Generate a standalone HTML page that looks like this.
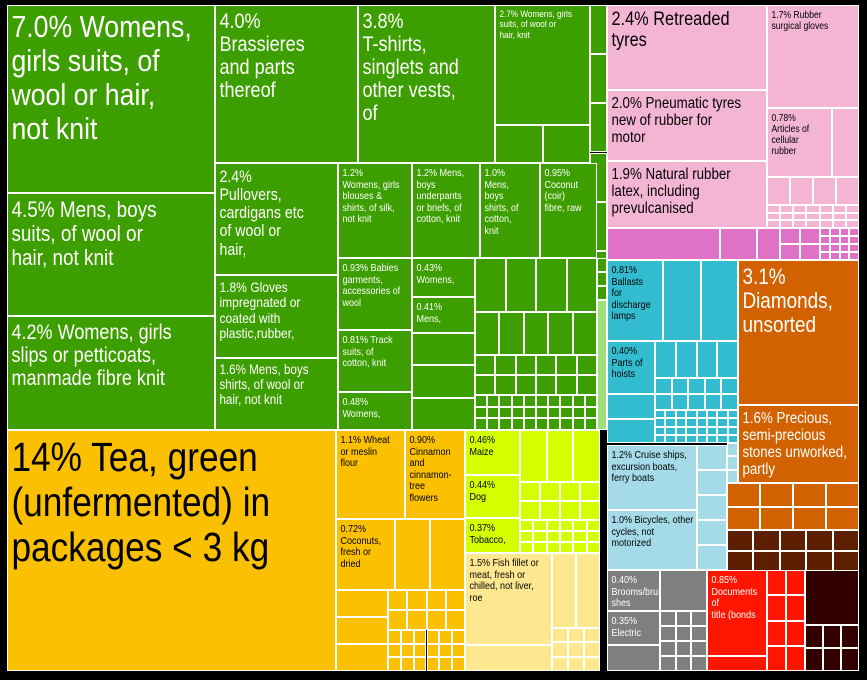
<!DOCTYPE html>
<html><head><meta charset="utf-8"><style>
body{margin:0;background:#000;width:867px;height:680px;overflow:hidden;position:relative;font-family:"Liberation Sans",sans-serif;}
.r{position:absolute;box-sizing:border-box;border:1px solid #fff;overflow:hidden;}
.t{transform:scaleX(0.86);transform-origin:0 0;padding:4px 4px;line-height:1.1;white-space:nowrap;}
</style></head><body>
<div id="c"></div>
<script>
var c=document.getElementById('c');
function r(x1,y1,x2,y2,bg,t,fs,col){var d=document.createElement('div');d.className='r';d.style.cssText='left:'+x1+'px;top:'+y1+'px;width:'+(x2-x1)+'px;height:'+(y2-y1)+'px;background:'+bg+';font-size:'+(fs||11)+'px;color:'+(col||'#fff');if(t){var i=document.createElement('div');i.className='t';i.innerHTML=t;d.appendChild(i);}c.appendChild(d);}
function g(x1,y1,x2,y2,bg,cols,rows){var w=(x2-x1)/cols,h=(y2-y1)/rows;for(var i=0;i<cols;i++)for(var j=0;j<rows;j++)r(x1+i*w,y1+j*h,x1+(i+1)*w,y1+(j+1)*h,bg);}
var G='#3d9e00',T='#fbc000',P='#f4b5d5',M='#df72c6',C='#33bcd0',D='#d26200',LB='#a5dbe8',GR='#7f7f7f',RD='#ff1500',BR='#5c2000',DK='#330000',YG='#d4ff00',LY='#fde78f',LG='#a0e07c';
r(7,5,215,193,G,'7.0% Womens,<br>girls suits, of<br>wool or hair,<br>not knit',31);
r(7,193,215,316,G,'4.5% Mens, boys<br>suits, of wool or<br>hair, not knit',22);
r(7,316,215,430,G,'4.2% Womens, girls<br>slips or petticoats,<br>manmade fibre knit',21);
r(215,5,358,163,G,'4.0%<br>Brassieres<br>and parts<br>thereof',21);
r(358,5,495,163,G,'3.8%<br>T-shirts,<br>singlets and<br>other vests,<br>of',21);
r(495,5,590,125,G,'2.7% Womens, girls<br>suits, of wool or<br>hair, knit',9.5);
g(495,125,590,163,G,2,1);
g(590,5,607,300,G,1,6);
r(215,163,338,275,G,'2.4%<br>Pullovers,<br>cardigans etc<br>of wool or<br>hair,',16.5);
r(215,275,338,358,G,'1.8% Gloves<br>impregnated or<br>coated with<br>plastic,rubber,',14);
r(215,358,338,430,G,'1.6% Mens, boys<br>shirts, of wool or<br>hair, not knit',13.5);
r(338,163,412,258,G,'1.2%<br>Womens, girls<br>blouses &amp;<br>shirts, of silk,<br>not knit',10.5);
r(412,163,480,258,G,'1.2% Mens,<br>boys<br>underpants<br>or briefs, of<br>cotton, knit',10.5);
r(480,163,540,258,G,'1.0%<br>Mens,<br>boys<br>shirts, of<br>cotton,<br>knit',10.5);
r(540,163,597,258,G,'0.95%<br>Coconut<br>(coir)<br>fibre, raw',10.5);
g(597,258,607,300,G,1,3);
r(338,258,412,330,G,'0.93% Babies<br>garments,<br>accessories of<br>wool',10.5);
r(338,330,412,392,G,'0.81% Track<br>suits, of<br>cotton, knit',10.5);
r(338,392,412,430,G,'0.48%<br>Womens,',10.5);
r(412,258,475,297,G,'0.43%<br>Womens,',10.5);
r(412,297,475,333,G,'0.41%<br>Mens,',10.5);
g(412,333,475,430,G,1,3);
g(475,258,597,312,G,4,1);
g(475,312,597,355,G,5,1);
g(475,355,597,395,G,6,2);
g(475,395,597,430,G,10,3);
r(597,300,607,430,LG);
r(7,430,336,671,T,'14% Tea, green<br>(unfermented) in<br>packages &lt; 3 kg',41,'#000');
r(336,430,405,519,T,'1.1% Wheat<br>or meslin<br>flour',10.5,'#000');
r(405,430,465,519,T,'0.90%<br>Cinnamon<br>and<br>cinnamon-<br>tree<br>flowers',10.5,'#000');
r(336,519,395,590,T,'0.72%<br>Coconuts,<br>fresh or<br>dried',10.5,'#000');
g(395,519,465,590,T,2,1);
g(336,590,388,671,T,1,3);
g(388,590,465,630,T,4,2);
g(388,630,465,671,T,6,3);
r(465,430,520,475,YG,'0.46%<br>Maize',10.5,'#000');
r(465,475,520,518,YG,'0.44%<br>Dog',10.5,'#000');
r(465,518,520,553,YG,'0.37%<br>Tobacco,',10.5,'#000');
g(520,430,600,482,YG,3,1);
g(520,482,600,520,YG,4,2);
g(520,520,600,553,YG,6,3);
r(465,553,552,645,LY,'1.5% Fish fillet or<br>meat, fresh or<br>chilled, not liver,<br>roe',10.5,'#000');
r(465,645,552,671,LY);
g(552,553,600,628,LY,2,1);
g(552,628,600,671,LY,3,3);
r(607,5,767,90,P,'2.4% Retreaded<br>tyres',19,'#000');
r(607,90,767,161,P,'2.0% Pneumatic tyres<br>new of rubber for<br>motor',15.5,'#000');
r(607,161,767,228,P,'1.9% Natural rubber<br>latex, including<br>prevulcanised',15.5,'#000');
r(767,5,859,108,P,'1.7% Rubber<br>surgical gloves',10,'#000');
r(767,108,832,177,P,'0.78%<br>Articles of<br>cellular<br>rubber',10,'#000');
r(832,108,859,177,P);
g(767,177,859,205,P,4,1);
g(767,205,859,228,P,7,3);
r(607,228,720,260,M);r(720,228,757,260,M);r(757,228,780,260,M);
g(780,228,820,260,M,2,2);g(820,228,859,260,M,4,4);
r(607,260,663,341,C,'0.81%<br>Ballasts<br>for<br>discharge<br>lamps',10.5,'#000');
g(663,260,738,341,C,2,1);
r(607,341,655,394,C,'0.40%<br>Parts of<br>hoists',10.5,'#000');
g(607,394,655,443,C,1,2);
g(655,341,738,378,C,4,1);
g(655,378,738,410,C,5,2);
g(655,410,738,443,C,8,4);
r(738,260,859,405,D,'3.1%<br>Diamonds,<br>unsorted',22);
r(738,405,859,483,D,'1.6% Precious,<br>semi-precious<br>stones unworked,<br>partly',15.5);
g(727,483,859,530,D,4,2);
g(727,530,859,571,BR,5,2);
r(607,445,697,510,LB,'1.2% Cruise ships,<br>excursion boats,<br>ferry boats',10.5,'#000');
r(607,510,697,570,LB,'1.0% Bicycles, other<br>cycles, not<br>motorized',10.5,'#000');
g(697,445,727,570,LB,1,5);
g(727,443,738,483,LB,1,3);
r(607,570,660,611,GR,'0.40%<br>Brooms/bru-<br>shes',10.5);
r(660,570,707,611,GR);
r(607,611,660,645,GR,'0.35%<br>Electric',10.5);
r(607,645,660,671,GR);
g(660,611,707,671,GR,3,4);
r(707,570,767,656,RD,'0.85%<br>Documents<br>of<br>title (bonds',10.5);
r(707,656,767,671,RD);
g(767,570,805,671,RD,2,4);
r(805,570,859,625,DK);g(805,625,859,671,DK,3,2);
</script>
</body></html>
